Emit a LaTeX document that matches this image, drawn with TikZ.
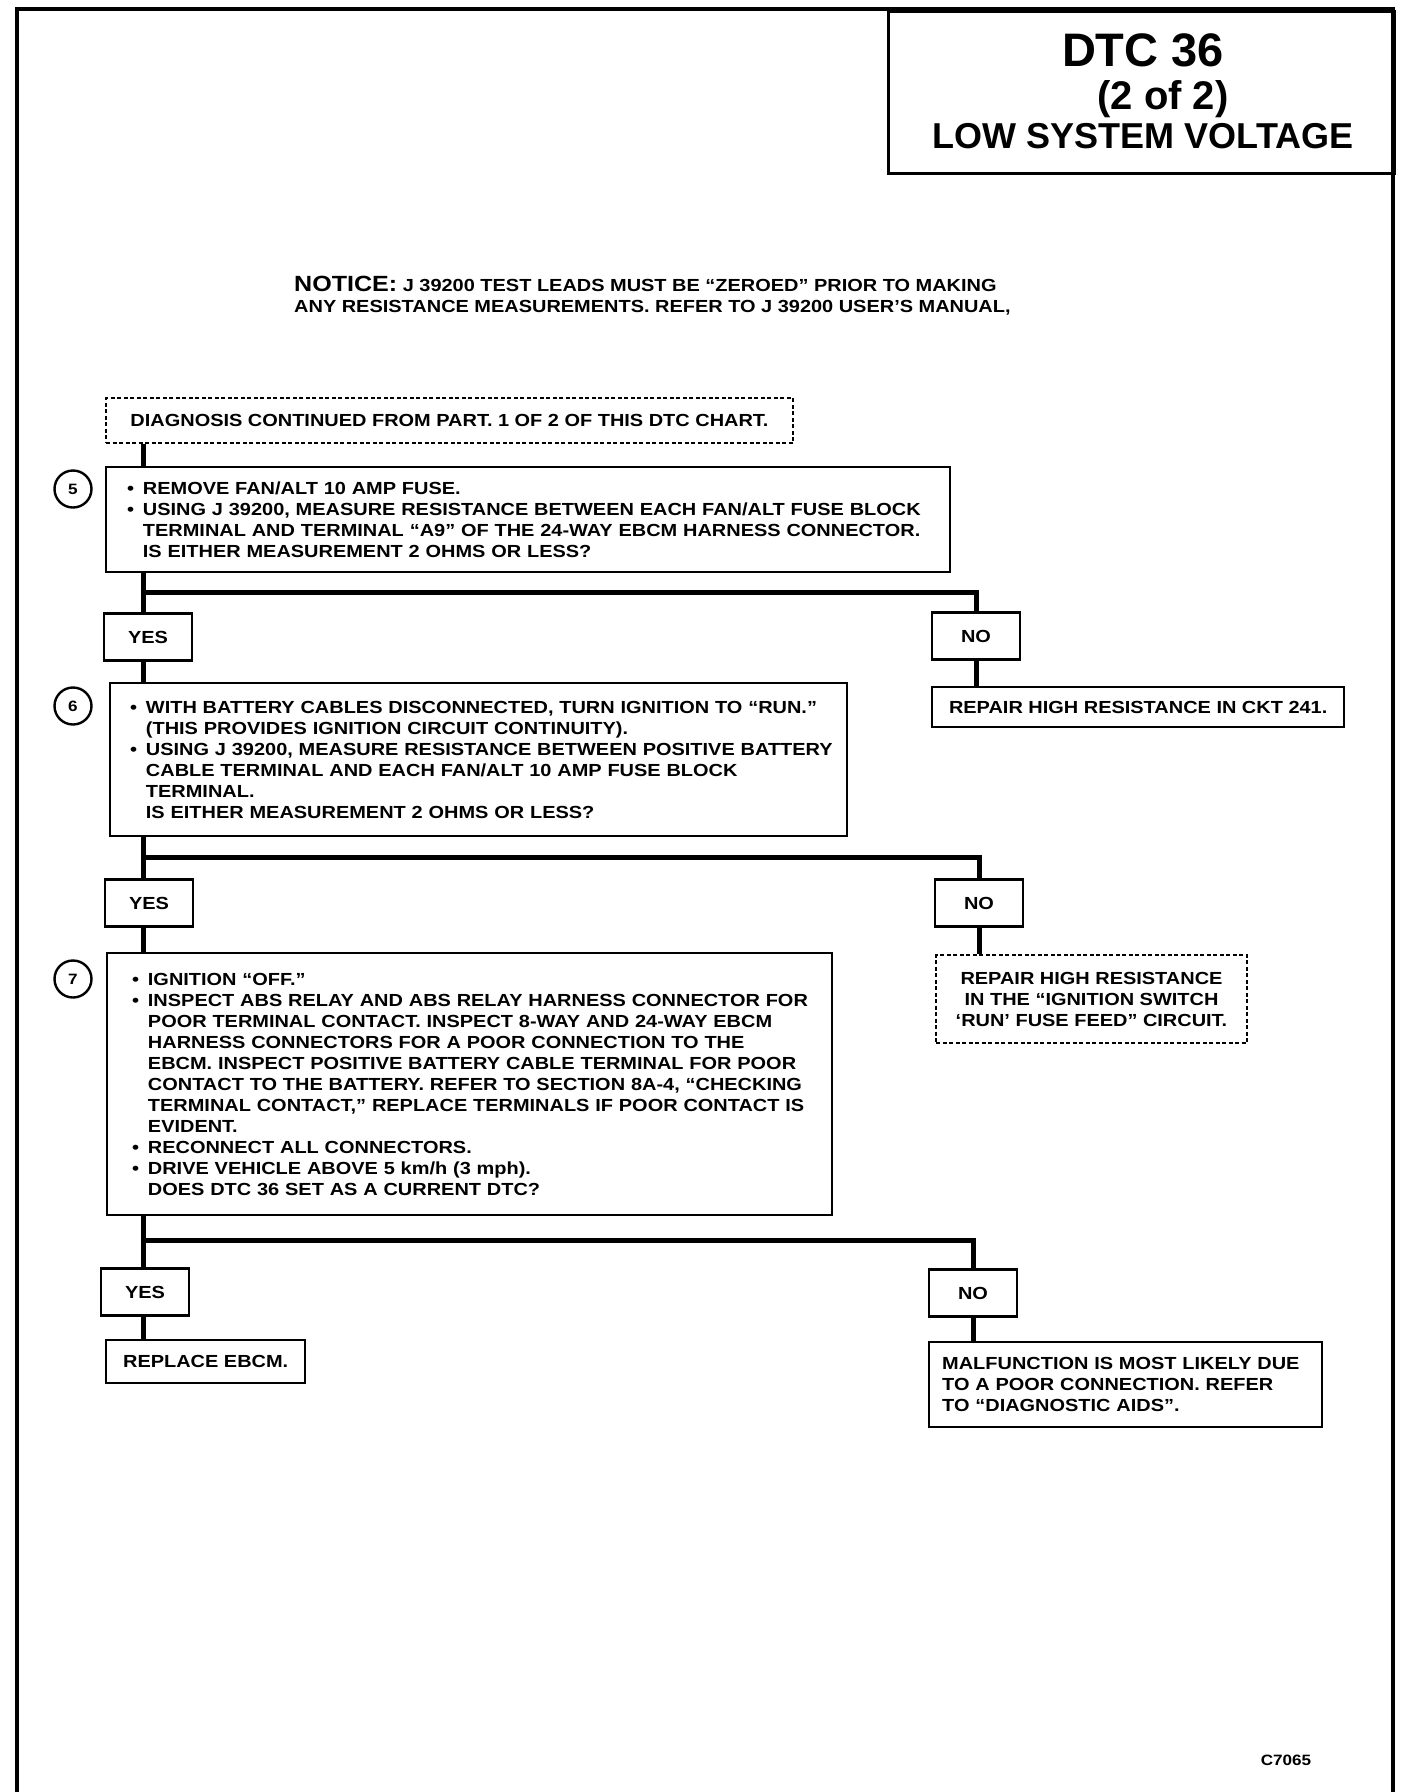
\documentclass[tikz,border=0pt]{standalone}
\usepackage{fontspec}
\setmainfont{Liberation Sans}
\newfontfamily\bodyf[FakeStretch=1.14]{Liberation Sans}
\newfontfamily\titlef{Liberation Sans}
\newcommand\bul{\makebox[0.9em][l]{•}}
\newcommand\ind{\hspace*{0.9em}}
\tikzset{
  bodyfont/.style={font=\bodyf\bfseries\fontsize{17.5}{21}\selectfont},
  frame/.style={line width=4pt},
  box/.style={draw, line width=2.4pt, rectangle, inner sep=0pt, anchor=north west, bodyfont},
  dbox/.style={box, dash pattern=on 4pt off 2.5pt, line width=2pt},
  yn/.style={draw, line width=2.4pt, rectangle, minimum width=88pt, minimum height=47pt, inner sep=0pt, bodyfont},
  circ/.style={draw, circle, line width=2.4pt, minimum size=37pt, inner sep=0pt, font=\bodyf\bfseries\fontsize{15}{15}\selectfont},
  conn/.style={line width=5pt, line join=miter},
  ttl/.style={font=\titlef\bfseries\fontsize{#1}{#1}\selectfont, inner sep=0pt},
}
\begin{document}
\begin{tikzpicture}[x=1pt,y=-1pt]
\useasboundingbox (0,0) rectangle (1408,1792);
% page frame
\draw[frame] (17,1792) -- (17,9) -- (1393,9) -- (1393,1792);
% title
\node[draw, line width=2.6pt, anchor=north west, minimum width=506pt, minimum height=162pt, inner sep=0pt] (titlebox) at (887,10) {};
\node[ttl=47] (t1) at (1143,50) {DTC 36};
\node[ttl=40] (t2) at (1163,99) {(2 of 2)};
\node[ttl=36] (t3) at (1143,136) {LOW SYSTEM VOLTAGE};
% notice
\node[bodyfont, anchor=west, align=left, inner sep=0pt] (notice) at (294,296) {{\fontsize{22}{21}\selectfont NOTICE:} J 39200 TEST LEADS MUST BE “ZEROED” PRIOR TO MAKING\\ANY RESISTANCE MEASUREMENTS. REFER TO J 39200 USER’S MANUAL,};
% junctions
\coordinate (j1) at (143,592);
\coordinate (j2) at (143,857);
\coordinate (j3) at (143,1240);
% start box
\node[dbox, minimum width=687pt, minimum height=45pt, align=center] (dc) at (105,397) {DIAGNOSIS CONTINUED FROM PART. 1 OF 2 OF THIS DTC CHART.};
% step 5
\node[box, minimum width=844pt, minimum height=105pt, text width=802pt, inner xsep=21pt, align=left] (b5) at (105,466) {\bul REMOVE FAN/ALT 10 AMP FUSE.\\\mbox{\bul USING J 39200, MEASURE RESISTANCE BETWEEN EACH FAN/ALT FUSE BLOCK}\\\mbox{\ind TERMINAL AND TERMINAL “A9” OF THE 24-WAY EBCM HARNESS CONNECTOR.}\\\ind IS EITHER MEASUREMENT 2 OHMS OR LESS?};
\node[circ] (c5) at (73,489) {5};
\node[yn] (yes1) at (148,637) {YES};
\node[yn] (no1) at (976,636) {NO};
\node[box, minimum width=412pt, minimum height=40pt, align=center] (r1) at (931,686) {REPAIR HIGH RESISTANCE IN CKT 241.};
% step 6
\node[box, minimum width=737pt, minimum height=153pt, text width=697pt, inner xsep=20pt, align=left] (b6) at (109,682) {\mbox{\bul WITH BATTERY CABLES DISCONNECTED, TURN IGNITION TO “RUN.”}\\\ind (THIS PROVIDES IGNITION CIRCUIT CONTINUITY).\\\mbox{\bul USING J 39200, MEASURE RESISTANCE BETWEEN POSITIVE BATTERY}\\\ind CABLE TERMINAL AND EACH FAN/ALT 10 AMP FUSE BLOCK\\\ind TERMINAL.\\\ind IS EITHER MEASUREMENT 2 OHMS OR LESS?};
\node[circ] (c6) at (73,706) {6};
\node[yn] (yes2) at (149,903) {YES};
\node[yn] (no2) at (979,903) {NO};
\node[dbox, minimum width=311pt, minimum height=88pt, align=center] (r2) at (935,954) {REPAIR HIGH RESISTANCE\\IN THE “IGNITION SWITCH\\‘RUN’ FUSE FEED” CIRCUIT.};
% step 7
\node[box, minimum width=725pt, minimum height=262pt, text width=675pt, inner xsep=25pt, align=left] (b7) at (106,952) {\bul IGNITION “OFF.”\\\mbox{\bul INSPECT ABS RELAY AND ABS RELAY HARNESS CONNECTOR FOR}\\\mbox{\ind POOR TERMINAL CONTACT. INSPECT 8-WAY AND 24-WAY EBCM}\\\mbox{\ind HARNESS CONNECTORS FOR A POOR CONNECTION TO THE}\\\mbox{\ind EBCM. INSPECT POSITIVE BATTERY CABLE TERMINAL FOR POOR}\\\mbox{\ind CONTACT TO THE BATTERY. REFER TO SECTION 8A-4, “CHECKING}\\\mbox{\ind TERMINAL CONTACT,” REPLACE TERMINALS IF POOR CONTACT IS}\\\ind EVIDENT.\\\bul RECONNECT ALL CONNECTORS.\\\bul DRIVE VEHICLE ABOVE 5 km/h (3 mph).\\\ind DOES DTC 36 SET AS A CURRENT DTC?};
\node[circ] (c7) at (73,979) {7};
\node[yn] (yes3) at (145,1292) {YES};
\node[yn] (no3) at (973,1293) {NO};
\node[box, minimum width=199pt, minimum height=43pt, align=center] (rep) at (105,1339) {REPLACE EBCM.};
\node[box, minimum width=393pt, minimum height=85pt, text width=367pt, inner xsep=13pt, align=left] (mal) at (928,1341) {MALFUNCTION IS MOST LIKELY DUE\\TO A POOR CONNECTION. REFER\\TO “DIAGNOSTIC AIDS”.};
% code
\node[bodyfont, inner sep=0pt] (code) at (1286,1760) {\fontsize{15}{15}\selectfont C7065};
% connectors
\draw[conn] (dc.south -| j1) -- (b5.north -| j1);
\draw[conn] (b5.south -| j1) -- (j1) -| (no1.north);
\draw[conn] (j1) -- (yes1.north -| j1);
\draw[conn] (yes1.south -| j1) -- (b6.north -| j1);
\draw[conn] (no1.south) -- (no1.south |- r1.north);
\draw[conn] (b6.south -| j2) -- (j2) -| (no2.north);
\draw[conn] (j2) -- (yes2.north -| j2);
\draw[conn] (yes2.south -| j2) -- (b7.north -| j2);
\draw[conn] (no2.south) -- (no2.south |- r2.north);
\draw[conn] (b7.south -| j3) -- (j3) -| (no3.north);
\draw[conn] (j3) -- (yes3.north -| j3);
\draw[conn] (yes3.south -| j3) -- (rep.north -| j3);
\draw[conn] (no3.south) -- (no3.south |- mal.north);
\end{tikzpicture}
\end{document}
